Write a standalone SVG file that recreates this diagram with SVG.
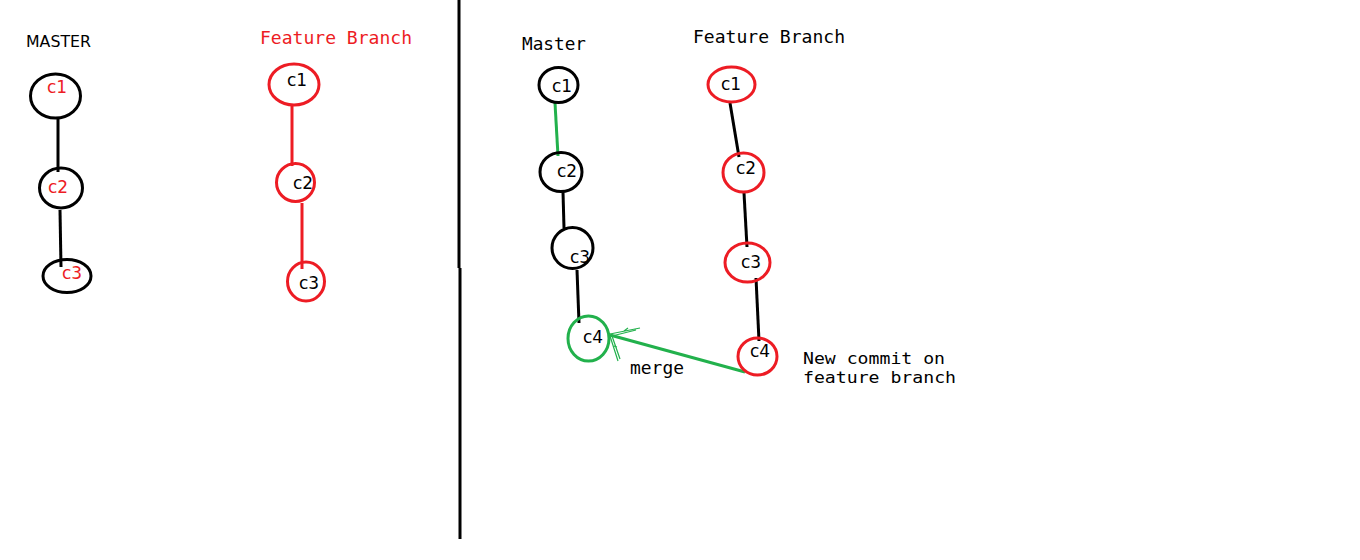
<svg xmlns="http://www.w3.org/2000/svg" width="1360" height="560" viewBox="0 0 1360 560">
<style>
.bg{fill:#fff}
.nb{fill:none;stroke:#000;stroke-width:3}
.nr{fill:none;stroke:#ed1c24;stroke-width:3}
.ng{fill:none;stroke:#22b14c;stroke-width:3}
.lb{fill:#000;font-family:"DejaVu Sans","Liberation Sans",sans-serif;font-size:17px;text-anchor:middle}
.lr{fill:#ed1c24;font-family:"DejaVu Sans","Liberation Sans",sans-serif;font-size:17px;text-anchor:middle}
.mono{font-family:"DejaVu Sans Mono","Liberation Mono",monospace;font-size:18px}
.mono2{font-family:"DejaVu Sans Mono","Liberation Mono",monospace;font-size:16px}
.ek{stroke:#000;stroke-width:3;fill:none}
.er{stroke:#ed1c24;stroke-width:3;fill:none}
.eg{stroke:#22b14c;stroke-width:3;fill:none}
.thin{stroke:#22b14c;stroke-width:1.2;fill:none}
</style>
<rect class="bg" x="0" y="0" width="1360" height="560"/>

<g id="divider">
<line x1="459" y1="0" x2="459" y2="268" stroke="#000" stroke-width="3"/>
<line x1="460" y1="268" x2="460" y2="539" stroke="#000" stroke-width="3"/>
</g>

<g id="labels">
<text x="26" y="47" font-family="DejaVu Sans, Liberation Sans, sans-serif" font-size="15" fill="#000" textLength="65" lengthAdjust="spacingAndGlyphs">MASTER</text>
<text x="260" y="44" class="mono" fill="#ed1c24" textLength="152" lengthAdjust="spacingAndGlyphs">Feature Branch</text>
<text x="522" y="50" class="mono" fill="#000" textLength="64" lengthAdjust="spacingAndGlyphs">Master</text>
<text x="693" y="43" class="mono" fill="#000" textLength="152" lengthAdjust="spacingAndGlyphs">Feature Branch</text>
<text x="630" y="374" class="mono" fill="#000" textLength="54" lengthAdjust="spacingAndGlyphs">merge</text>
<text x="803" y="364" class="mono2" fill="#000" textLength="142" lengthAdjust="spacingAndGlyphs">New commit on</text>
<text x="803" y="383" class="mono2" fill="#000" textLength="153" lengthAdjust="spacingAndGlyphs">feature branch</text>
</g>

<g id="connectors">
<line class="ek" x1="58" y1="119" x2="58" y2="172"/>
<line class="ek" x1="60" y1="210" x2="61" y2="267"/>
<line class="er" x1="292" y1="106" x2="292" y2="166"/>
<line class="er" x1="302" y1="203" x2="302" y2="269"/>
<line class="eg" x1="555" y1="103" x2="558" y2="156"/>
<line class="ek" x1="563" y1="192" x2="564" y2="228"/>
<line class="ek" x1="577" y1="270" x2="579" y2="323"/>
<line class="ek" x1="730" y1="103" x2="739" y2="157"/>
<line class="ek" x1="744" y1="193" x2="747" y2="247"/>
<line class="ek" x1="756" y1="278" x2="759" y2="341"/>
<line class="eg" x1="745" y1="372" x2="610" y2="335"/>
<path class="thin" d="M610 334 L640 328 M612 336 L636 330 M624 331 L628 328"/>
<path class="thin" d="M610 336 L618 361 M612 336 L620 359 M614 346 L617 347"/>
</g>

<g id="m1-c1"><ellipse class="nb" cx="55.5" cy="96" rx="25" ry="22"/><text class="lr" x="57" y="93">c1</text></g>
<g id="m1-c2"><ellipse class="nb" cx="61" cy="188" rx="21.5" ry="20"/><text class="lr" x="58" y="193">c2</text></g>
<g id="m1-c3"><ellipse class="nb" cx="67" cy="276" rx="24" ry="16.5"/><text class="lr" x="72" y="279">c3</text></g>

<g id="f1-c1"><ellipse class="nr" cx="294" cy="84.5" rx="25" ry="20.5"/><text class="lb" x="297" y="86">c1</text></g>
<g id="f1-c2"><ellipse class="nr" cx="295.5" cy="182.5" rx="19" ry="19"/><text class="lb" x="303" y="189">c2</text></g>
<g id="f1-c3"><ellipse class="nr" cx="306" cy="281.5" rx="18.5" ry="19.5"/><text class="lb" x="309" y="289">c3</text></g>

<g id="m2-c1"><ellipse class="nb" cx="558.5" cy="85" rx="19.5" ry="17.5"/><text class="lb" x="562" y="92">c1</text></g>
<g id="m2-c2"><ellipse class="nb" cx="561" cy="172" rx="21" ry="19.5"/><text class="lb" x="567" y="177">c2</text></g>
<g id="m2-c3"><ellipse class="nb" cx="572.5" cy="248" rx="20.5" ry="20.5"/><text class="lb" x="580" y="263">c3</text></g>
<g id="m2-c4"><ellipse class="ng" cx="588.5" cy="338.5" rx="20.5" ry="22.5"/><text class="lb" x="593" y="343">c4</text></g>

<g id="f2-c1"><ellipse class="nr" cx="731.5" cy="84.5" rx="23.5" ry="17.5"/><text class="lb" x="731" y="90">c1</text></g>
<g id="f2-c2"><ellipse class="nr" cx="743.5" cy="172.5" rx="20.5" ry="19.5"/><text class="lb" x="746" y="174">c2</text></g>
<g id="f2-c3"><ellipse class="nr" cx="747.5" cy="262.5" rx="22.5" ry="19.5"/><text class="lb" x="751" y="268">c3</text></g>
<g id="f2-c4"><ellipse class="nr" cx="757.5" cy="356.5" rx="19.5" ry="18.5"/><text class="lb" x="760" y="357">c4</text></g>
</svg>
